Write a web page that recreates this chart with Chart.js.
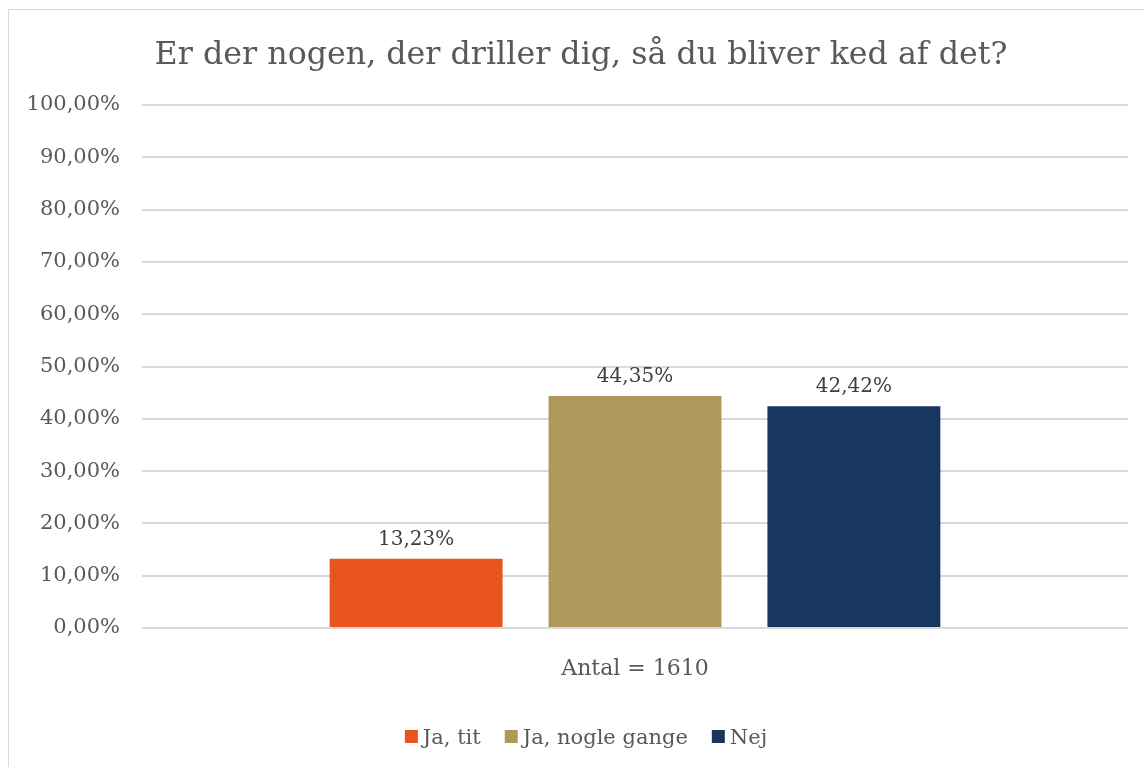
<!DOCTYPE html>
<html>
<head>
<meta charset="utf-8">
<script src="https://cdn.jsdelivr.net/npm/chart.js@4/dist/chart.umd.min.js"></script>
<style>
  html, body { margin: 0; padding: 0; background: #fff; overflow: hidden; }
  .wrap { position: relative; width: 1144px; height: 767px; }
  .frame { position: absolute; left: 8px; top: 9px; width: 1200px; height: 800px; border: 1px solid #d9d9d9; box-sizing: border-box; }
  canvas { position: absolute; left: 0; top: 0; }
</style>
</head>
<body>
<div class="wrap">
  <div class="frame"></div>
  <canvas id="c" width="1144" height="767"></canvas>
</div>
<script>
// Data
const titleText = 'Er der nogen, der driller dig, så du bliver ked af det?';
const categories = ['Antal = 1610'];
const seriesNames = ['Ja, tit', 'Ja, nogle gange', 'Nej'];
const seriesValues = [13.23, 44.35, 42.42];
const yTicks = [0, 10, 20, 30, 40, 50, 60, 70, 80, 90, 100];

const COLORS = ['#e9541f', '#af995a', '#17375e'];
const INK = '#595959';
const FONT = '"DejaVu Serif", Georgia, serif';

const pct = (v) => v.toFixed(2).replace('.', ',') + '%';

// Value labels above each bar
const barLabels = {
    id: 'barLabels',
    afterDatasetsDraw(chart) {
        const ctx = chart.ctx;
        ctx.save();
        ctx.font = '20px ' + FONT;
        ctx.fillStyle = '#404040';
        ctx.textAlign = 'center';
        ctx.textBaseline = 'bottom';
        chart.data.datasets.forEach((ds, i) => {
            chart.getDatasetMeta(i).data.forEach((bar, j) => {
                ctx.fillText(pct(ds.data[j]), bar.x, bar.y - 9);
            });
        });
        ctx.restore();
    },
};

// Title and legend sit a bit right of centre in the original (its frame runs past the crop)
const titleAndLegend = {
    id: 'titleAndLegend',
    afterDraw(chart) {
        const ctx = chart.ctx;
        ctx.save();
        ctx.fillStyle = INK;
        ctx.textBaseline = 'alphabetic';

        ctx.font = '31.7px ' + FONT;
        ctx.textAlign = 'center';
        ctx.fillText(titleText, 581, 64);

        ctx.font = '21px ' + FONT;
        ctx.textAlign = 'left';
        const box = 13, gap = 5, spacing = 24;
        const items = chart.data.datasets.map((ds) => ({ label: ds.label, color: ds.backgroundColor, w: ctx.measureText(ds.label).width }));
        const total = items.reduce((s, it) => s + box + gap + it.w, 0) + spacing * (items.length - 1);
        let x = 586 - total / 2;
        items.forEach((it) => {
            ctx.fillStyle = it.color;
            ctx.fillRect(x, 730, box, box);
            ctx.fillStyle = INK;
            ctx.fillText(it.label, x + box + gap, 744);
            x += box + gap + it.w + spacing;
        });
        ctx.restore();
    },
};

new Chart(document.getElementById('c'), {
    type: 'bar',
    data: {
        labels: categories,
        datasets: seriesNames.map((name, i) => ({
            label: name,
            data: [seriesValues[i]],
            backgroundColor: COLORS[i],
            categoryPercentage: 0.666,
            barPercentage: 0.79,
        })),
    },
    options: {
        responsive: false,
        animation: false,
        layout: { padding: { left: 0, right: 16, top: 105, bottom: 73 } },
        plugins: {
            title: { display: false },
            legend: { display: false },
            tooltip: { enabled: false },
        },
        scales: {
            x: {
                grid: { display: false },
                border: { display: false },
                afterFit: (s) => { s.height = 66; },
                ticks: { color: INK, font: { family: FONT, size: 22 }, padding: 20 },
            },
            y: {
                min: 0,
                max: 100,
                afterBuildTicks: (s) => { s.ticks = yTicks.map((v) => ({ value: v })); },
                afterFit: (s) => { s.width = 142; },
                grid: { color: '#d9d9d9', lineWidth: 2, drawTicks: false },
                border: { display: false },
                ticks: { color: INK, font: { family: FONT, size: 21 }, padding: 22, callback: (v) => pct(v) },
            },
        },
    },
    plugins: [barLabels, titleAndLegend],
});
</script>
</body>
</html>
